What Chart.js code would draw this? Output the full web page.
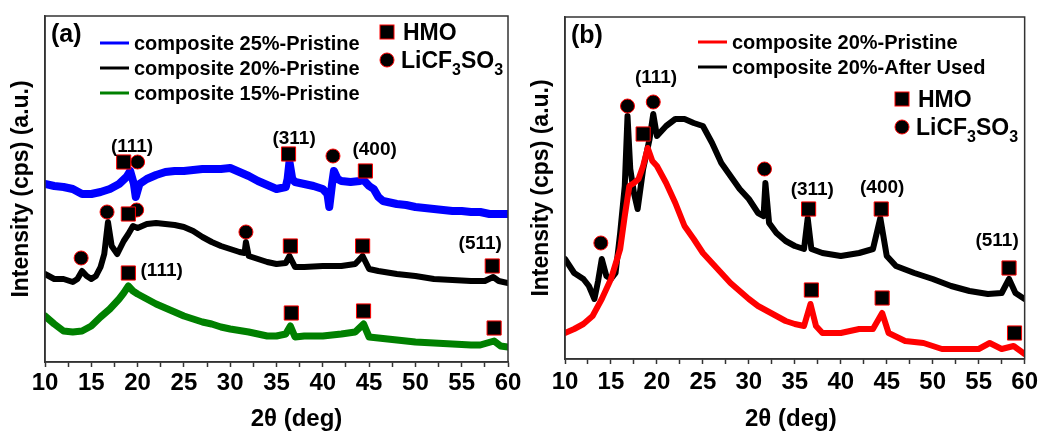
<!DOCTYPE html>
<html>
<head>
<meta charset="utf-8">
<script src="https://cdn.jsdelivr.net/npm/chart.js@4.4.0/dist/chart.umd.min.js"></script>
<style>
  body { margin: 0; background: #fff; width: 1042px; height: 432px; position: relative; overflow: hidden; }
  canvas { position: absolute; top: 0; }
  #chartA { left: 0; }
  #chartB { left: 520px; }
</style>
</head>
<body>
<canvas id="chartA" width="540" height="432"></canvas>
<canvas id="chartB" width="522" height="432"></canvas>
<script>
// ---- panel (a): composites, pristine ----
const angA25 = [10, 11, 12, 13, 14, 15, 16, 17, 18, 18.8,
  19.2, 19.6, 19.8, 20.2, 21, 22, 23, 24, 25, 26,
  27, 28, 29, 30, 31, 32, 33, 34, 35, 36,
  36.2, 36.4, 36.7, 37, 38, 39, 40, 40.5, 40.7, 41,
  41.2, 41.6, 42, 43, 44, 44.3, 45, 45.5, 46, 46.5,
  47, 48, 49, 50, 51, 52, 53, 54, 55, 56,
  57, 58, 59, 60];
const intA25 = [178, 176, 175, 173, 168, 168, 170, 173, 178, 185,
  191, 178, 165, 178, 183, 187, 190, 191, 191, 192,
  193, 193, 193, 194, 190, 186, 181, 177, 173, 175,
  183, 200, 183, 180, 178, 176, 173, 168, 155, 178,
  191, 183, 181, 180, 181, 183, 176, 173, 165, 161,
  160, 158, 157, 155, 154, 153, 152, 151, 151, 150,
  150, 148, 148, 148];

const angA20 = [10, 11, 12, 13, 13.5, 14, 14.5, 15, 15.5, 16,
  16.4, 16.8, 17.2, 17.8, 18.5, 19, 19.5, 20, 21, 22,
  23, 24, 25, 26, 27, 28, 29, 30, 31, 31.55,
  31.7, 32, 33, 34, 35, 36, 36.4, 37, 38, 40,
  42, 43.5, 44.3, 45, 46, 48, 50, 52, 54, 56,
  57.5, 58.4, 59, 60];
const intA20 = [88, 83, 83, 80, 83, 91, 86, 83, 86, 95,
  108, 140, 116, 108, 121, 128, 136, 134, 138, 139,
  138, 137, 135, 131, 125, 120, 116, 113, 110, 109,
  120, 106, 103, 100, 98, 99, 106, 95, 95, 96,
  96, 98, 106, 93, 91, 88, 86, 83, 82, 81,
  81, 85, 81, 79];

const angA15 = [10, 11, 12, 13, 14, 15, 16, 17, 18, 18.5,
  19, 19.5, 20, 21, 22, 23, 24, 25, 26, 27,
  28, 29, 30, 32, 34, 35, 36, 36.5, 37, 38,
  40, 42, 43.5, 44.4, 45, 47, 50, 52, 54, 56,
  57, 58.5, 59.2, 60];
const intA15 = [46, 38, 31, 30, 31, 36, 45, 53, 63, 69,
  76, 71, 68, 63, 58, 54, 50, 46, 43, 40,
  38, 35, 33, 30, 26, 26, 28, 36, 25, 26,
  26, 28, 30, 38, 25, 23, 20, 19, 18, 17,
  17, 21, 16, 15];

// ---- panel (b): 20% composite, pristine vs after used ----
const angBPri = [10, 11, 12, 13, 14, 15, 16, 16.5, 17, 17.5,
  18, 18.5, 19, 19.5, 20, 21, 22, 23, 24, 25,
  26, 27, 28, 29, 30, 31, 32, 33, 34, 35,
  36, 36.7, 37.3, 38, 40, 42, 43.5, 44.5, 45.2, 47,
  49, 51, 53, 55, 56.2, 57.5, 58.8, 60];
const intBPri = [26, 30, 35, 43, 60, 80, 110, 143, 173, 176,
  180, 193, 211, 198, 193, 176, 156, 133, 120, 106,
  96, 86, 76, 68, 60, 53, 48, 43, 38, 35,
  33, 55, 33, 26, 26, 30, 30, 46, 26, 18,
  16, 10, 10, 10, 16, 10, 13, 5];

const angBUsed = [10, 11, 12, 12.6, 13.2, 13.6, 14, 14.5, 15, 15.5,
  16, 16.5, 16.8, 17.1, 17.5, 17.9, 18.5, 19.2, 19.6, 20,
  21, 22, 23, 24, 25, 26, 27, 28, 29, 30,
  31, 31.6, 31.8, 32.2, 33, 34, 35, 36, 36.4, 36.8,
  38, 40, 42, 43.5, 44.3, 45, 46, 48, 50, 52,
  54, 56, 57.5, 58.3, 59, 60];
const intBUsed = [100, 86, 80, 73, 60, 78, 100, 83, 80, 86,
  126, 173, 243, 190, 166, 150, 190, 220, 245, 223,
  233, 240, 240, 236, 233, 216, 196, 183, 170, 160,
  146, 143, 176, 136, 126, 118, 113, 110, 141, 110,
  106, 103, 106, 110, 141, 103, 93, 86, 80, 73,
  68, 65, 66, 80, 66, 60];

// phase markers (HMO = square, LiCF3SO3 = circle)
const hmoAngA = [18.5, 36.3, 44.6, 19.0, 36.5, 44.3, 58.3, 19.0, 36.6, 44.4, 58.5];
const hmoIntA = [200, 208, 191, 148, 116, 116, 96, 89, 49, 51, 34];
const saltAngA = [20.0, 41.1, 13.9, 16.7, 19.9, 31.7];
const saltIntA = [200, 206, 104, 150, 152, 130];
const hmoAngB = [18.5, 36.5, 44.4, 58.3, 36.8, 44.5, 58.9];
const hmoIntB = [225, 150, 150, 91, 69, 61, 26];
const saltAngB = [13.9, 16.8, 19.6, 31.7];
const saltIntB = [116, 253, 257, 190];

// Miller index labels
const hklTextA = ['(111)', '(311)', '(400)', '(511)', '(111)'];
const hklAngA = [19.4, 36.9, 45.6, 57.0, 22.6];
const hklIntA = [215, 223, 212, 118, 91];
const hklTextB = ['(111)', '(311)', '(400)', '(511)'];
const hklAngB = [19.9, 36.9, 44.5, 57.0];
const hklIntB = [281, 169, 171, 118];

const FONT = '"Liberation Sans", Arial, sans-serif';
const pts = (xs, ys) => xs.map((x, i) => ({ x: x, y: ys[i] }));

function curve(label, xs, ys, color, width) {
  return {
    label: label, data: pts(xs, ys), borderColor: color, backgroundColor: color,
    borderWidth: width, borderJoinStyle: 'round', borderCapStyle: 'round',
    pointRadius: 0, tension: 0, showLine: true
  };
}
function markers(xs, ys, style, r) {
  return {
    label: style, data: pts(xs, ys), showLine: false, pointStyle: style,
    pointRadius: r, pointHoverRadius: r, backgroundColor: '#000',
    borderColor: '#ff0000', borderWidth: 1, clip: false
  };
}

function drawSquare(ctx, x, y) {
  ctx.fillStyle = '#000';
  ctx.strokeStyle = '#ff0000';
  ctx.lineWidth = 1;
  ctx.fillRect(x - 7, y - 7, 14, 14);
  ctx.strokeRect(x - 7, y - 7, 14, 14);
}
function drawDot(ctx, x, y) {
  ctx.beginPath();
  ctx.arc(x, y, 7, 0, Math.PI * 2);
  ctx.fillStyle = '#000';
  ctx.fill();
  ctx.strokeStyle = '#ff0000';
  ctx.lineWidth = 1;
  ctx.stroke();
}
function drawSalt(ctx, x, y) {
  // LiCF3SO3 with subscripts
  const parts = [['LiCF', false], ['3', true], ['SO', false], ['3', true]];
  ctx.fillStyle = '#000';
  ctx.textAlign = 'left';
  ctx.textBaseline = 'alphabetic';
  parts.forEach(p => {
    ctx.font = p[1] ? 'bold 16px ' + FONT : 'bold 23px ' + FONT;
    ctx.fillText(p[0], x, p[1] ? y + 7 : y);
    x += ctx.measureText(p[0]).width;
  });
}

// frame, legend, hkl labels and x title
function decor(cfg) {
  return {
    id: 'decor',
    afterDraw(chart) {
      const ctx = chart.ctx;
      const a = chart.chartArea;
      const sx = chart.scales.x, sy = chart.scales.y;
      ctx.save();
      ctx.strokeStyle = '#333';
      ctx.lineWidth = 1.5;
      ctx.strokeRect(a.left, a.top, a.right - a.left, a.bottom - a.top);

      ctx.fillStyle = '#000';
      ctx.textBaseline = 'middle';
      ctx.textAlign = 'left';
      ctx.font = 'bold 25px ' + FONT;
      ctx.fillText(cfg.tag, a.left + 6, a.top + 19);

      ctx.font = 'bold 20px ' + FONT;
      cfg.series.forEach((s, i) => {
        const y = a.top + cfg.legY + i * 25;
        ctx.strokeStyle = s[1];
        ctx.lineWidth = 3;
        ctx.beginPath();
        ctx.moveTo(a.left + cfg.legX, y);
        ctx.lineTo(a.left + cfg.legX + 29, y);
        ctx.stroke();
        ctx.fillText(s[0], a.left + cfg.legX + 34, y + 1);
      });

      drawSquare(ctx, a.left + cfg.phX, a.top + cfg.phY);
      ctx.font = 'bold 23px ' + FONT;
      ctx.fillStyle = '#000';
      ctx.textBaseline = 'middle';
      ctx.fillText('HMO', a.left + cfg.phX + 16, a.top + cfg.phY + 2);
      drawDot(ctx, a.left + cfg.phX, a.top + cfg.phY + 28);
      drawSalt(ctx, a.left + cfg.phX + 14, a.top + cfg.phY + 36);

      ctx.font = 'bold 19px ' + FONT;
      ctx.fillStyle = '#000';
      ctx.textAlign = 'center';
      ctx.textBaseline = 'middle';
      cfg.hkl[0].forEach((t, i) => {
        ctx.fillText(t, sx.getPixelForValue(cfg.hkl[1][i]), sy.getPixelForValue(cfg.hkl[2][i]));
      });

      ctx.font = 'bold 24px ' + FONT;
      ctx.fillText('2\u03b8 (deg)', (a.left + a.right) / 2 + cfg.titleDx, 419);
      ctx.restore();
    }
  };
}

function makeOptions(yMax, pad, axisH, tickPad) {
  return {
    responsive: false,
    animation: false,
    layout: { padding: pad },
    plugins: { legend: { display: false }, tooltip: { enabled: false } },
    scales: {
      x: {
        type: 'linear', min: 10, max: 60,
        afterFit: s => { s.height = axisH; },
        ticks: {
          stepSize: 2.5, autoSkip: false, maxRotation: 0, padding: tickPad,
          color: '#000', font: { family: FONT, size: 24, weight: 'bold' },
          callback: v => (v % 5 === 0 ? v : '')
        },
        grid: { drawOnChartArea: false, tickLength: 5, tickColor: '#333', tickWidth: 1.5 },
        border: { color: '#333', width: 1.5 }
      },
      y: {
        min: 0, max: yMax,
        afterFit: s => { s.width = 45; },
        ticks: { display: false },
        grid: { display: false },
        border: { color: '#333', width: 1.5 },
        title: {
          display: true, text: 'Intensity (cps) (a.u.)', color: '#000',
          font: { family: FONT, size: 23, weight: 'bold' }, padding: { top: 8, bottom: 0 }
        }
      }
    }
  };
}

new Chart(document.getElementById('chartA'), {
  type: 'line',
  data: {
    datasets: [
      markers(hmoAngA, hmoIntA, 'rect', 10),
      markers(saltAngA, saltIntA, 'circle', 7),
      curve('composite 25%-Pristine', angA25, intA25, '#0000ff', 8),
      curve('composite 20%-Pristine', angA20, intA20, '#000000', 6),
      curve('composite 15%-Pristine', angA15, intA15, '#008000', 7)
    ]
  },
  options: makeOptions(346, { top: 16, right: 32, left: 0, bottom: 0 }, 70, 2),
  plugins: [decor({
    tag: '(a)', legX: 55, legY: 27,
    series: [['composite 25%-Pristine', '#0000ff'], ['composite 20%-Pristine', '#000000'], ['composite 15%-Pristine', '#008000']],
    phX: 342, phY: 16, hkl: [hklTextA, hklAngA, hklIntA], titleDx: 20
  })]
});

new Chart(document.getElementById('chartB'), {
  type: 'line',
  data: {
    datasets: [
      markers(hmoAngB, hmoIntB, 'rect', 10),
      markers(saltAngB, saltIntB, 'circle', 7),
      curve('composite 20%-Pristine', angBPri, intBPri, '#ff0000', 6),
      curve('composite 20%-After Used', angBUsed, intBUsed, '#000000', 6)
    ]
  },
  options: makeOptions(342, { top: 17, right: 16, left: 0, bottom: 0 }, 73, 4),
  plugins: [decor({
    tag: '(b)', legX: 133, legY: 25,
    series: [['composite 20%-Pristine', '#ff0000'], ['composite 20%-After Used', '#000000']],
    phX: 337, phY: 82, hkl: [hklTextB, hklAngB, hklIntB], titleDx: -4
  })]
});
</script>
</body>
</html>
